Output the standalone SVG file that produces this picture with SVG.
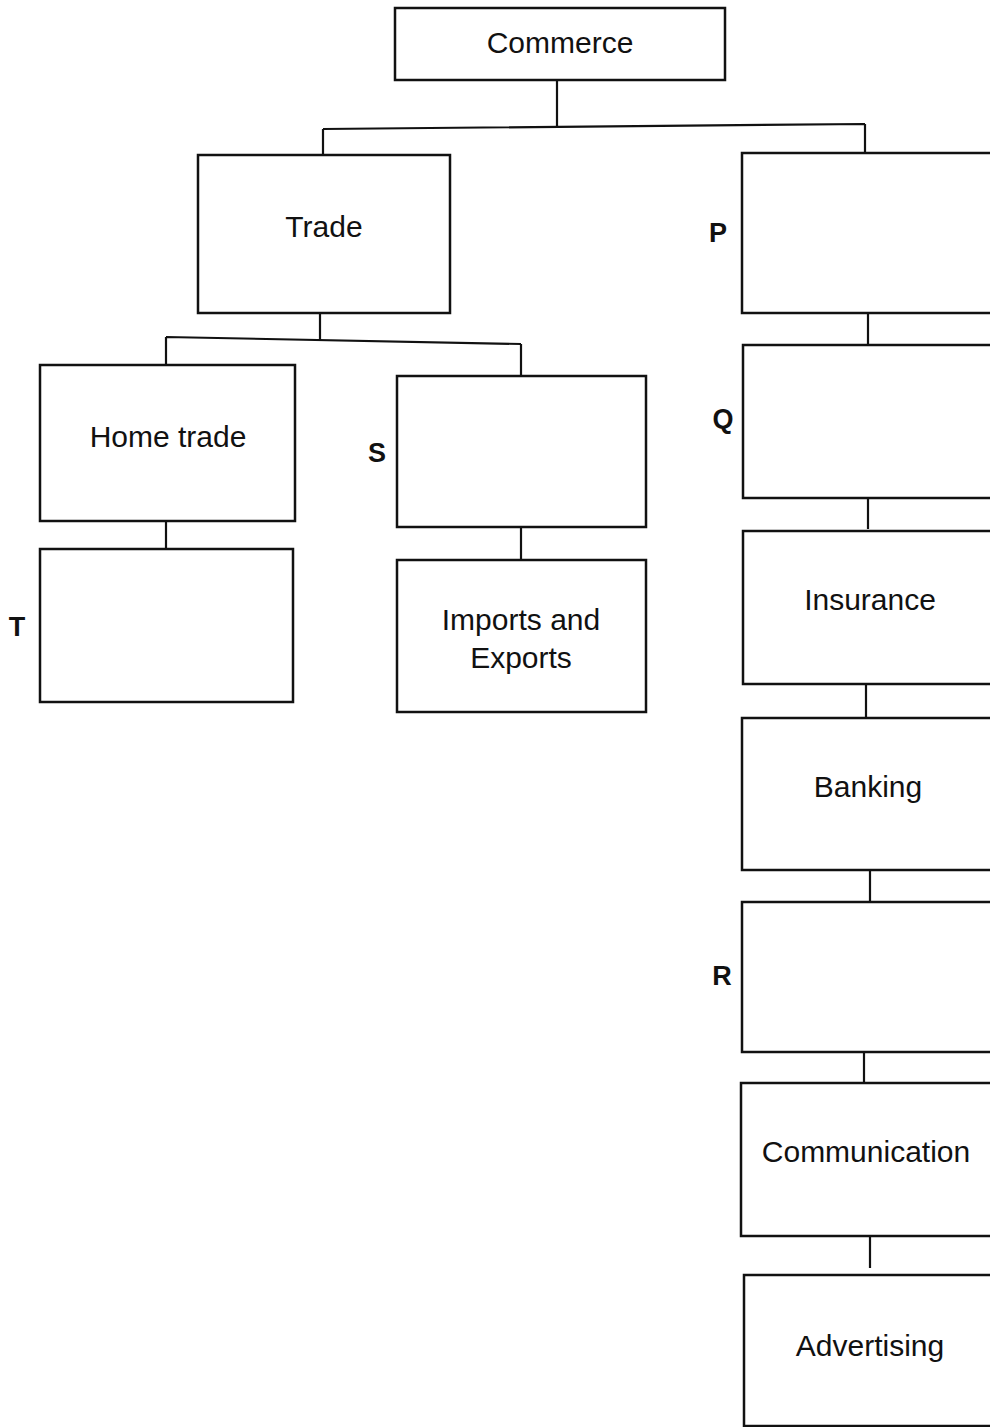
<svg xmlns="http://www.w3.org/2000/svg" width="990" height="1427" viewBox="0 0 990 1427">
<style>
.box{fill:#fff;stroke:#111;stroke-width:2.5}
.ln{fill:none;stroke:#111;stroke-width:2.2}
.t{font-family:"Liberation Sans",Arial,sans-serif;font-size:30px;fill:#111;text-anchor:middle}
.l{font-family:"Liberation Sans",Arial,sans-serif;font-size:27px;font-weight:bold;fill:#111;text-anchor:middle}
</style>
<rect width="990" height="1427" fill="#fff"/>
<g id="connectors">
<path class="ln" d="M557,80 V127 M323,129 L865,124 M323,129 V157 M865,124 V153"/>
<path class="ln" d="M320,313 V340 M166,337 L521,344 M166,337 V365 M521,344 V377"/>
<path class="ln" d="M166,521 V549"/>
<path class="ln" d="M521,527 V560"/>
<path class="ln" d="M868,313 V345 M868,498 V529 M866,684 V718 M870,870 V902 M864,1052 V1083 M870,1237 V1268"/>
</g>
<g id="commerce"><rect class="box" x="395" y="8" width="330" height="72"/><text class="t" x="560" y="53">Commerce</text></g>
<g id="trade"><rect class="box" x="198" y="155" width="252" height="158"/><text class="t" x="324" y="237">Trade</text></g>
<g id="p"><rect class="box" x="742" y="153" width="260" height="160"/><text class="l" x="718" y="242">P</text></g>
<g id="hometrade"><rect class="box" x="40" y="365" width="255" height="156"/><text class="t" x="168" y="447">Home trade</text></g>
<g id="s"><rect class="box" x="397" y="376" width="249" height="151"/><text class="l" x="377" y="462">S</text></g>
<g id="t"><rect class="box" x="40" y="549" width="253" height="153"/><text class="l" x="17" y="636">T</text></g>
<g id="imports"><rect class="box" x="397" y="560" width="249" height="152"/><text class="t" x="521" y="630">Imports and</text><text class="t" x="521" y="668">Exports</text></g>
<g id="q"><rect class="box" x="743" y="345" width="259" height="153"/><text class="l" x="723" y="428">Q</text></g>
<g id="insurance"><rect class="box" x="743" y="531" width="259" height="153"/><text class="t" x="870" y="610">Insurance</text></g>
<g id="banking"><rect class="box" x="742" y="718" width="260" height="152"/><text class="t" x="868" y="797">Banking</text></g>
<g id="r"><rect class="box" x="742" y="902" width="260" height="150"/><text class="l" x="722" y="985">R</text></g>
<g id="communication"><rect class="box" x="741" y="1083" width="261" height="153"/><text class="t" x="866" y="1162">Communication</text></g>
<g id="advertising"><rect class="box" x="744" y="1275" width="258" height="151"/><text class="t" x="870" y="1356">Advertising</text></g>
</svg>
